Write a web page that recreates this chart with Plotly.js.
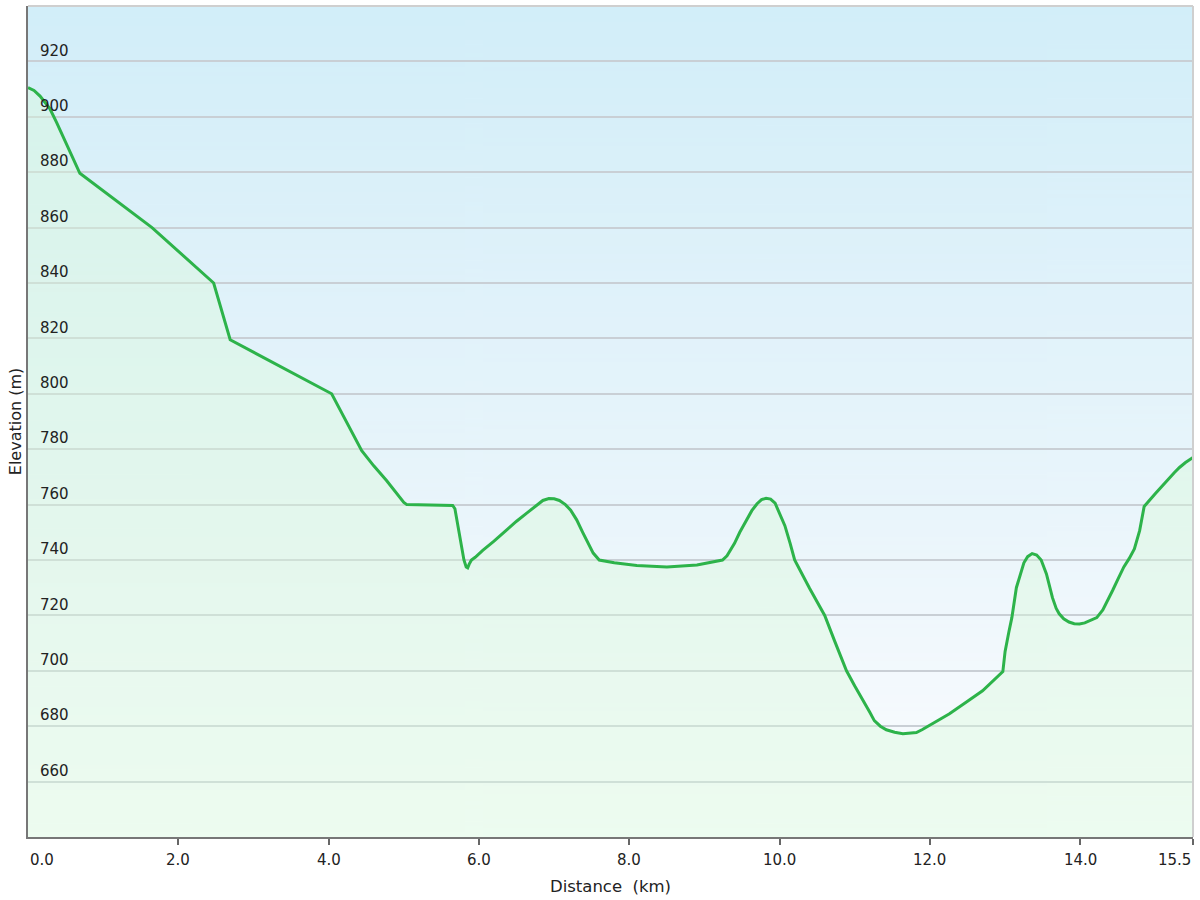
<!DOCTYPE html>
<html>
<head>
<meta charset="utf-8">
<script src="https://cdn.plot.ly/plotly-3.0.1.min.js"></script>
<style>
html,body{margin:0;padding:0;background:#fff;}
#chart{width:1200px;height:900px;}
</style>
</head>
<body>
<div id="chart"></div>
<script>
// Distance along the route (km)
const distanceKm = [0, 0.08, 0.16, 0.29, 0.38, 0.47, 0.69, 1.65, 2.47, 2.69, 4.04, 4.44, 4.60, 4.77, 4.88, 4.95, 5.00, 5.04,
  5.65, 5.68, 5.70, 5.74, 5.77, 5.80, 5.83, 5.85, 5.87, 5.90, 5.95,
  6.05, 6.20, 6.35, 6.50, 6.64, 6.75, 6.85, 6.93, 7.00, 7.07, 7.15, 7.22, 7.30, 7.38, 7.45, 7.52, 7.60,
  7.80, 8.10, 8.50, 8.90, 9.24,
  9.30, 9.40, 9.47, 9.55, 9.63, 9.70, 9.76, 9.82, 9.88, 9.94, 10.00, 10.07, 10.14, 10.20,
  10.40, 10.60, 10.73, 10.89, 11.00, 11.10, 11.20, 11.26, 11.34, 11.42, 11.53, 11.64, 11.75, 11.82, 11.90, 11.99,
  12.10, 12.26, 12.50, 12.70, 12.97,
  13.00, 13.05, 13.09, 13.15, 13.20, 13.25, 13.30, 13.36, 13.42, 13.48, 13.55, 13.63, 13.68, 13.72, 13.78, 13.85,
  13.92, 13.99, 14.06, 14.12, 14.22, 14.30, 14.37, 14.43, 14.50, 14.58, 14.65, 14.72, 14.79, 14.85,
  15.00, 15.15, 15.25, 15.32, 15.40, 15.50];
// Elevation (m)
const elevationM = [910.5, 909.5, 907.5, 903, 898, 892.7, 879.6, 860, 840, 819.5, 800, 779.5, 774, 768.7, 765, 762.5, 760.8, 760,
  759.7, 758.5, 755.3, 749, 744.5, 740, 737.5, 737.2, 738.5, 740, 741,
  743.5, 746.8, 750.5, 754, 757, 759.5, 761.5, 762.2, 762.1, 761.5, 760, 758, 754.5, 750, 746, 742.5, 740,
  739, 738, 737.5, 738.2, 740,
  741.5, 746, 750, 754, 757.8, 760.3, 761.8, 762.3, 762, 760.5, 757, 752.4, 746, 740,
  729.7, 720, 710.9, 700, 694.5, 690, 685, 682, 680, 678.7, 677.8, 677.3, 677.4, 677.7, 678.8, 680.2,
  681.8, 684.5, 689, 692.8, 699.7,
  707, 714, 719.2, 730, 735, 739, 741.2, 742.3, 741.8, 740, 735, 726.4, 722.5, 720.6, 718.8, 717.6,
  717, 716.9, 717.3, 718, 719.2, 722, 725.5, 729, 733, 737.5, 740.5, 744, 750.6, 759.3,
  764, 768.7, 771.5, 773.4, 775.2, 777];

const xTickVals = [0, 2, 4, 6, 8, 10, 12, 14, 15.5];
const xTickText = ['0.0', '2.0', '4.0', '6.0', '8.0', '10.0', '12.0', '14.0', '15.5'];
const yTickVals = [660, 680, 700, 720, 740, 760, 780, 800, 820, 840, 860, 880, 900, 920];

const X_RANGE = [0, 15.5];
const Y_RANGE = [640, 940];
const FONT = 'DejaVu Sans, Verdana, sans-serif';

// vertical sky gradient for the plot background
function gradientImage() {
  const c = document.createElement('canvas');
  c.width = 4; c.height = 400;
  const ctx = c.getContext('2d');
  const g = ctx.createLinearGradient(0, 0, 0, 400);
  g.addColorStop(0, 'rgb(210,238,249)');
  g.addColorStop(0.35, 'rgb(224,242,250)');
  g.addColorStop(0.6, 'rgb(233,245,251)');
  g.addColorStop(0.8, 'rgb(243,249,253)');
  g.addColorStop(1, 'rgb(250,253,255)');
  ctx.fillStyle = g;
  ctx.fillRect(0, 0, 4, 400);
  return c.toDataURL('image/png');
}

const traces = [
  {
    x: distanceKm, y: elevationM,
    type: 'scatter', mode: 'lines', fill: 'tozeroy',
    line: {color: '#2db34a', width: 3},
    fillcolor: 'rgba(218,250,218,0.4)',
    showlegend: false
  }
];

const annotations = xTickVals.map((v, i) => ({
  x: v, y: 0, xref: 'x', yref: 'paper', yanchor: 'top', yshift: -12,
  xanchor: i === 0 ? 'left' : (i === xTickVals.length - 1 ? 'right' : 'center'),
  text: xTickText[i], showarrow: false,
  font: {family: FONT, size: 15, color: '#222'}
}));

const layout = {
  width: 1200, height: 900,
  margin: {l: 28, r: 7, t: 6, b: 63},
  paper_bgcolor: '#ffffff', plot_bgcolor: '#ffffff',
  font: {family: FONT, size: 15, color: '#222'},
  showlegend: false,
  images: [{
    source: gradientImage(), xref: 'paper', yref: 'paper',
    x: 0, y: 1, sizex: 1, sizey: 1, xanchor: 'left', yanchor: 'top',
    sizing: 'stretch', layer: 'below'
  }],
  xaxis: {
    range: X_RANGE, tickmode: 'array', tickvals: xTickVals,
    showticklabels: false, ticks: 'outside', ticklen: 6, tickwidth: 2, tickcolor: '#666',
    showgrid: false, zeroline: false,
    showline: true, linecolor: '#777', linewidth: 2,
    title: {text: 'Distance\u00a0\u00a0(km)', font: {family: FONT, size: 16.5, color: '#222'}, standoff: 36},
    automargin: false, fixedrange: true
  },
  yaxis: {
    range: Y_RANGE, tickmode: 'array', tickvals: yTickVals, ticktext: yTickVals.map(String),
    ticks: '', ticklabelposition: 'inside', ticklabelshift: -11, ticklabelstandoff: 12,
    tickfont: {family: FONT, size: 15, color: '#222'},
    showgrid: true, gridcolor: '#c9cfd5', gridwidth: 2, zeroline: false,
    showline: true, linecolor: '#777', linewidth: 2,
    title: {text: 'Elevation (m)', font: {family: FONT, size: 16, color: '#222'}, standoff: 14},
    automargin: false, fixedrange: true
  },
  shapes: [
    {type: 'line', xref: 'paper', yref: 'paper', x0: 0, x1: 1, y0: 1, y1: 1, line: {color: '#cfcfcf', width: 2}},
    {type: 'line', xref: 'paper', yref: 'paper', x0: 1, x1: 1, y0: 0, y1: 1, line: {color: '#cfcfcf', width: 2}}
  ],
  annotations: annotations
};

Plotly.newPlot('chart', traces, layout, {displayModeBar: false, staticPlot: true});
</script>
</body>
</html>
